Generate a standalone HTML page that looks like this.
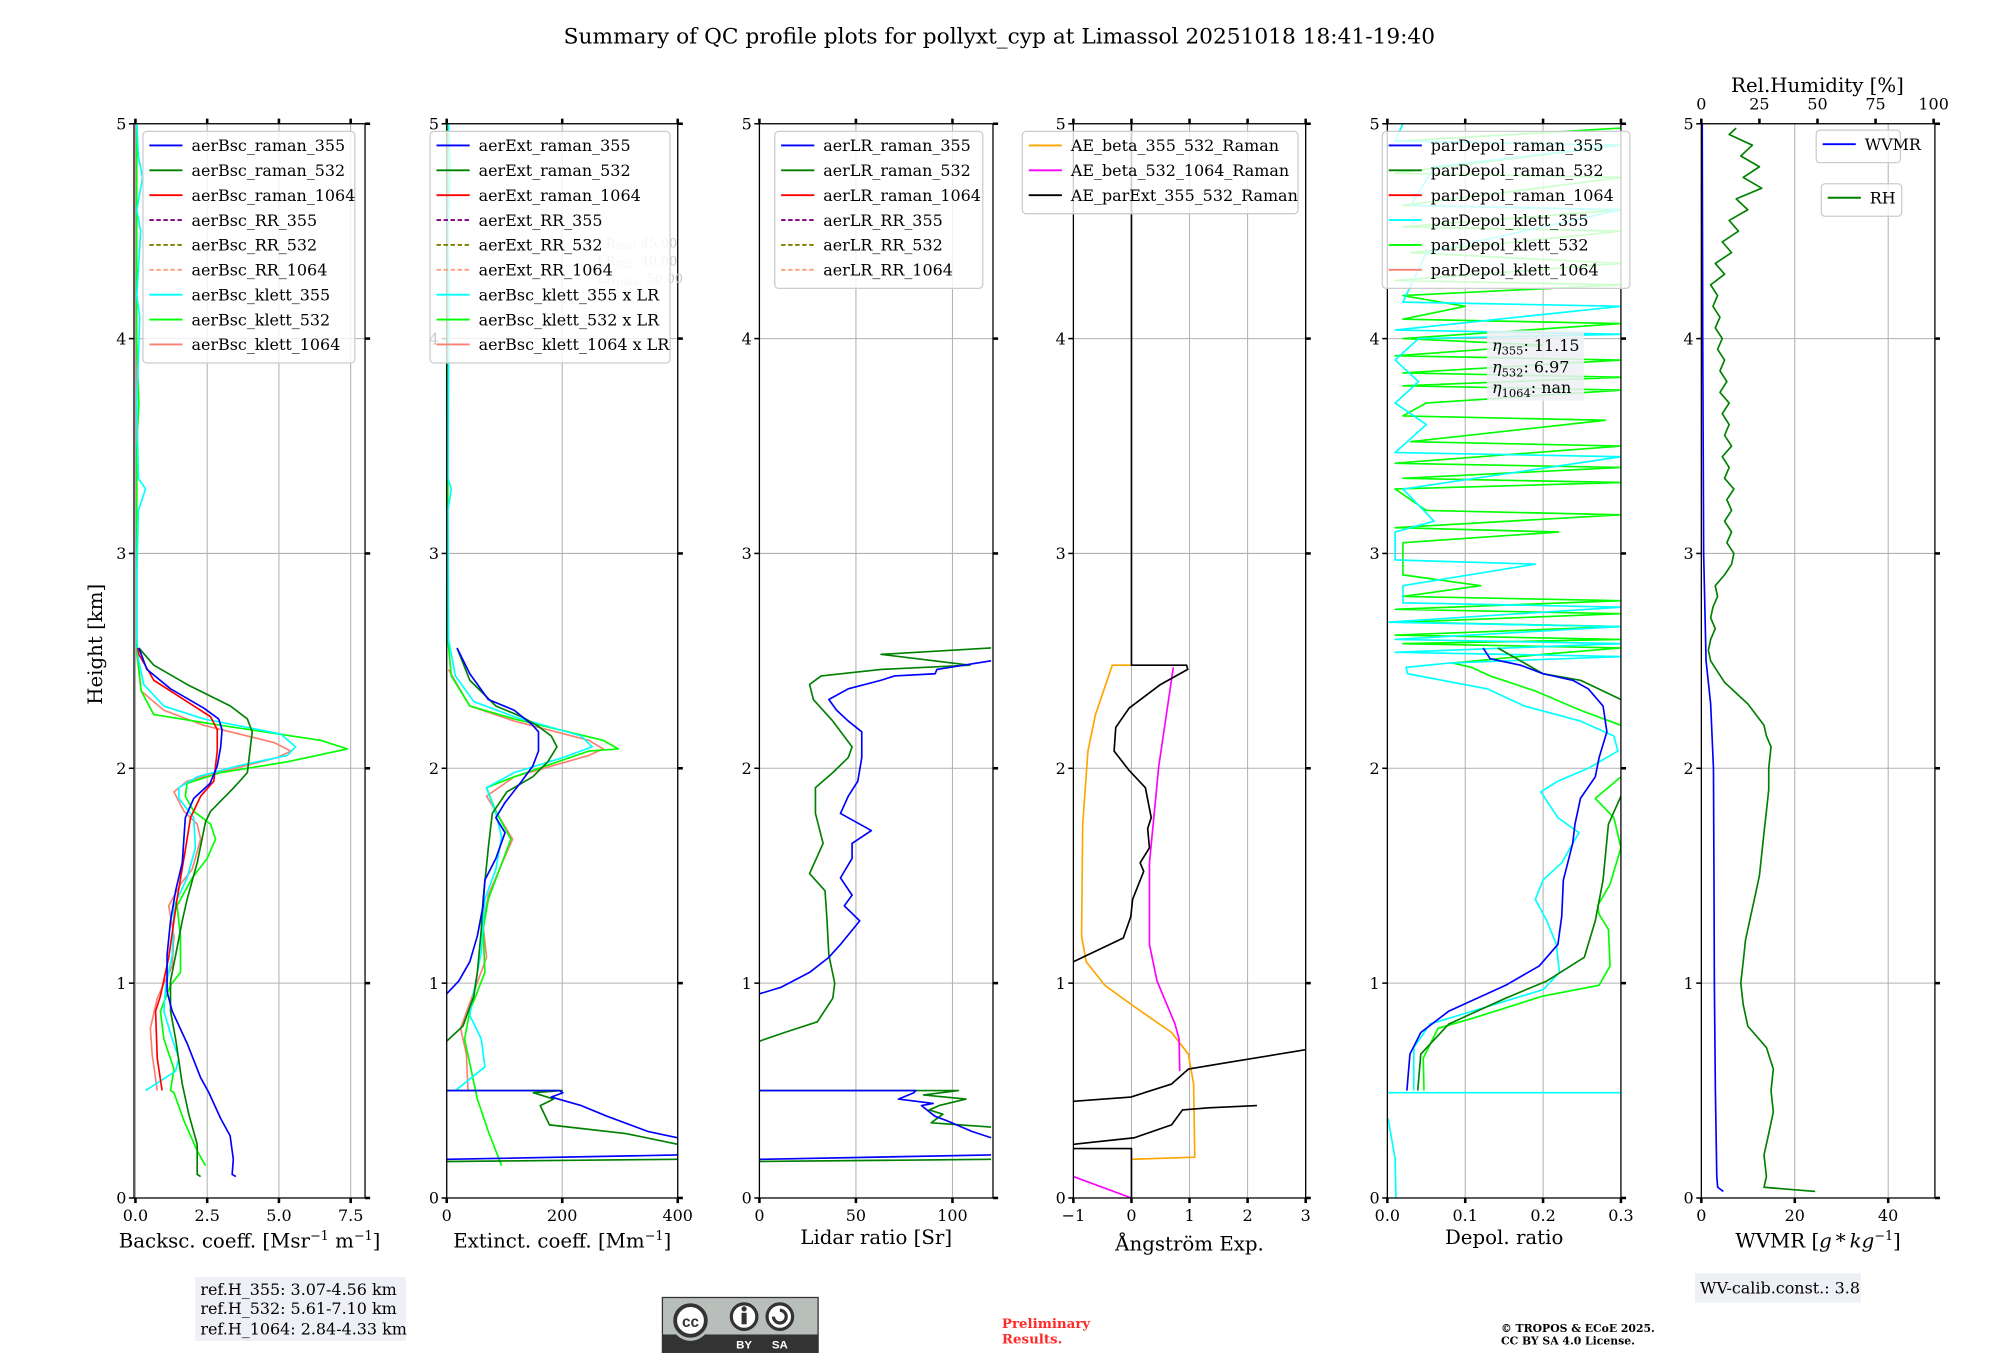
<!DOCTYPE html>
<html><head><meta charset="utf-8"><style>
html,body{margin:0;padding:0;background:#fff;}
svg{display:block;font-family:"DejaVu Serif","Liberation Serif",serif;}
</style></head><body>
<svg id="fig" xmlns="http://www.w3.org/2000/svg" width="2000" height="1360" viewBox="0 0 1567 1066" preserveAspectRatio="none">
<rect x="0" y="0" width="1567" height="1066" fill="#fff"/>
<text x="783" y="34" font-size="17" text-anchor="middle">Summary of QC profile plots for pollyxt_cyp at Limassol 20251018 18:41-19:40</text>
<text x="0" y="0" font-size="15.5" text-anchor="middle" transform="translate(80,505) rotate(-90)">Height [km]</text>
<g id="plots"></g>
<g>
<rect x="153" y="1001" width="165" height="50" fill="#eef0f5"/>
<text x="157" y="1015" font-size="12.5">ref.H_355: 3.07-4.56 km</text>
<text x="157" y="1030" font-size="12.5">ref.H_532: 5.61-7.10 km</text>
<text x="157" y="1046" font-size="12.5">ref.H_1064: 2.84-4.33 km</text>
</g>
<g>
<rect x="1328" y="998" width="130" height="23" fill="#eef0f5"/>
<text x="1332" y="1014" font-size="12.5">WV-calib.const.: 3.8</text>
</g>
<g>
<rect x="519" y="1017" width="122" height="43" fill="#b8bfba" stroke="#333" stroke-width="1"/>
<rect x="519" y="1046" width="122" height="14" fill="#333"/>
<circle cx="541" cy="1036" r="15" fill="#b8bfba"/>
<circle cx="541" cy="1035" r="12" fill="#fff" stroke="#333" stroke-width="3"/>
<text x="541" y="1040" font-size="12" font-family="Liberation Sans, sans-serif" font-weight="bold" text-anchor="middle" fill="#333">cc</text>
<circle cx="583" cy="1032" r="10" fill="#fff" stroke="#333" stroke-width="2.5"/>
<rect x="581" y="1029" width="4" height="9" fill="#333"/><circle cx="583" cy="1026" r="2" fill="#333"/>
<circle cx="611" cy="1032" r="10" fill="#fff" stroke="#333" stroke-width="2.5"/>
<path d="M606 1032 A5 5 0 1 0 611 1027" fill="none" stroke="#333" stroke-width="2.5"/>
<text x="583" y="1057" font-size="9" font-family="Liberation Sans, sans-serif" font-weight="bold" fill="#fff" text-anchor="middle">BY</text>
<text x="611" y="1057" font-size="9" font-family="Liberation Sans, sans-serif" font-weight="bold" fill="#fff" text-anchor="middle">SA</text>
</g>
<text x="785" y="1041" font-size="10.5" font-weight="bold" fill="#ff2a2a">Preliminary</text>
<text x="785" y="1053" font-size="10.5" font-weight="bold" fill="#ff2a2a">Results.</text>
<text x="1176" y="1044" font-size="8.5" font-weight="bold">© TROPOS &amp; ECoE 2025.</text>
<text x="1176" y="1054" font-size="8.5" font-weight="bold">CC BY SA 4.0 License.</text>
</svg>
<script>
// ===== DATA ===== each point: [height_km, value]; null = gap
const heightTicks = [0,1,2,3,4,5];
const bscTicks = [0,2.5,5,7.5]; const bscTickLabels = ["0.0","2.5","5.0","7.5"];
const extTicks = [0,200,400]; const extTickLabels = ["0","200","400"];
const lrTicks = [0,50,100]; const lrTickLabels = ["0","50","100"];
const aeTicks = [-1,0,1,2,3]; const aeTickLabels = ["\u22121","0","1","2","3"];
const dpTicks = [0,0.1,0.2,0.3]; const dpTickLabels = ["0.0","0.1","0.2","0.3"];
const wvTicks = [0,20,40]; const wvTickLabels = ["0","20","40"];
const rhTicks = [0,25,50,75,100]; const rhTickLabels = ["0","25","50","75","100"];

const bscRaman355 = [[0.10,3.5],[0.11,3.37],[0.18,3.41],[0.29,3.3],[0.37,2.97],[0.49,2.56],[0.56,2.27],[0.72,1.8],[0.87,1.28],[0.96,1.1],[1.13,1.1],[1.29,1.22],[1.43,1.4],[1.56,1.63],[1.77,1.74],[1.86,2.03],[1.93,2.6],[2.01,2.85],[2.1,2.97],[2.18,3.02],[2.23,2.9],[2.28,2.38],[2.37,1.22],[2.46,0.4],[2.56,0.12]];
const bscRaman532 = [[0.10,2.27],[0.11,2.15],[0.25,2.15],[0.39,1.86],[0.53,1.63],[0.74,1.4],[0.87,1.22],[1.01,1.22],[1.13,1.4],[1.29,1.63],[1.39,1.8],[1.56,2.15],[1.75,2.44],[1.8,2.62],[1.91,3.43],[1.98,3.9],[2.17,4.07],[2.23,3.9],[2.29,3.31],[2.39,1.8],[2.48,0.64],[2.56,0.12]];
const bscRaman1064 = [[0.5,0.93],[0.65,0.76],[0.87,0.7],[0.94,0.87],[1.12,1.16],[1.39,1.45],[1.62,1.74],[1.77,1.92],[1.87,2.27],[1.94,2.73],[2.08,2.85],[2.18,2.85],[2.24,2.62],[2.31,1.8],[2.41,0.64],[2.53,0.12],[2.56,0.08]];
const bscKlett355 = [[0.5,0.35],[0.59,1.4],[0.65,1.51],[0.74,1.28],[0.87,0.99],[0.98,1.05],[1.13,1.28],[1.36,1.34],[1.49,1.8],[1.63,2.09],[1.77,2.03],[1.86,1.51],[1.91,1.51],[1.96,2.15],[2.01,3.55],[2.06,5.29],[2.1,5.58],[2.16,5.06],[2.23,2.38],[2.29,0.99],[2.39,0.29],[2.51,0.1],[2.6,0.05],[2.9,0.05],[3.2,0.1],[3.3,0.35],[3.35,0.1],[3.7,0.05],[4.1,0.15],[4.2,0.05],[4.5,0.18],[4.6,0.05],[4.75,0.25],[4.85,0.1],[5.0,0.05]];
const bscKlett532 = [[0.15,2.44],[0.22,2.15],[0.36,1.69],[0.49,1.34],[0.5,1.22],[0.6,1.34],[0.74,0.99],[0.87,0.87],[0.99,1.22],[1.05,1.57],[1.22,1.57],[1.36,1.45],[1.49,1.98],[1.58,2.5],[1.67,2.79],[1.74,2.62],[1.8,2.03],[1.87,1.74],[1.93,1.8],[1.98,2.97],[2.03,5.29],[2.09,7.38],[2.13,6.45],[2.2,2.97],[2.25,0.64],[2.36,0.2],[2.55,0.05],[3.5,0.05],[3.7,0.12],[4.0,0.04],[5.0,0.05]];
const bscKlett1064 = [[0.5,0.76],[0.67,0.58],[0.79,0.52],[0.93,0.76],[1.08,1.28],[1.22,1.34],[1.36,1.16],[1.46,1.57],[1.53,1.98],[1.67,2.27],[1.74,2.15],[1.8,1.69],[1.89,1.34],[1.94,1.8],[1.99,3.2],[2.05,4.94],[2.08,5.41],[2.12,4.83],[2.2,2.38],[2.27,0.99],[2.36,0.2],[2.53,0.05],[5.0,0.03]];

const extRaman355 = [[0.18,0],[0.2,400],null,[0.28,400],[0.31,348],[0.38,278],[0.43,233],[0.47,181],[0.49,201],[0.5,195],[0.5,0],null,[0.95,0],[1.01,21],[1.1,40],[1.22,53],[1.36,63],[1.48,66],[1.58,85],[1.7,101],[1.77,85],[1.84,101],[1.94,130],[2.01,149],[2.08,159],[2.17,159],[2.2,149],[2.27,117],[2.32,72],[2.44,40],[2.56,18]];
const extRaman532 = [[0.17,0],[0.18,400],null,[0.25,400],[0.3,310],[0.34,178],[0.43,162],[0.46,185],[0.49,150],[0.5,200],[0.5,0],null,[0.73,0],[0.8,28],[0.94,47],[1.05,53],[1.25,60],[1.39,63],[1.63,72],[1.79,79],[1.89,104],[1.96,149],[2.03,175],[2.1,191],[2.15,181],[2.2,156],[2.24,130],[2.29,85],[2.41,40],[2.56,18]];
const extKlett355 = [[0.5,15],[0.61,66],[0.74,60],[0.85,40],[0.96,47],[1.15,60],[1.39,66],[1.53,85],[1.68,95],[1.79,85],[1.91,69],[1.98,117],[2.05,201],[2.1,252],[2.15,233],[2.24,117],[2.31,47],[2.43,15],[2.6,3],[3.2,2],[3.3,8],[3.35,2],[4.2,4],[4.5,2],[4.8,6],[5.0,3]];
const extKlett532 = [[0.15,95],[0.31,72],[0.46,53],[0.5,50],[0.74,31],[0.87,40],[1.05,66],[1.25,63],[1.39,72],[1.67,111],[1.8,85],[1.91,69],[1.96,117],[2.08,246],[2.09,297],[2.13,271],[2.23,117],[2.29,40],[2.43,8],[2.6,2],[5.0,2]];
const extKlett1064 = [[0.5,37],[0.67,34],[0.79,24],[0.96,47],[1.12,69],[1.27,63],[1.41,72],[1.67,114],[1.8,85],[1.87,69],[1.96,117],[2.06,246],[2.09,271],[2.13,246],[2.22,117],[2.29,40],[2.46,3]];

const lrRaman355 = [[0.18,0],[0.2,120],null,[0.28,120],[0.31,110],[0.36,97],[0.38,91],[0.43,84],[0.44,90],[0.46,72],[0.49,80],[0.5,81],[0.5,0],null,[0.95,0],[0.98,11],[1.05,26],[1.12,36],[1.18,42],[1.29,52],[1.36,44],[1.41,48],[1.49,42],[1.58,48],[1.65,48],[1.71,58],[1.79,42],[1.87,46],[1.94,51],[2.05,53],[2.17,53],[2.22,46],[2.27,40],[2.32,36],[2.37,46],[2.41,63],[2.43,70],[2.44,91],[2.46,92],[2.5,120]];
const lrRaman532 = [[0.17,0],[0.18,120],null,[0.33,120],[0.35,89],[0.39,95],[0.41,88],[0.43,93],[0.46,107],[0.48,85],[0.5,103],[0.5,0],null,[0.73,0],[0.77,13],[0.82,30],[0.93,38],[1.0,39],[1.13,36],[1.3,35],[1.43,34],[1.51,26],[1.65,33],[1.79,29],[1.91,29],[1.98,38],[2.05,46],[2.1,48],[2.22,38],[2.32,28],[2.39,26],[2.43,32],[2.46,63],[2.48,109],[2.53,63],[2.56,120]];

const aeBeta355532 = [[0.18,0],[0.19,1.09],[0.53,1.07],[0.67,0.98],[0.77,0.69],[0.89,0.05],[0.99,-0.46],[1.1,-0.78],[1.22,-0.86],[1.74,-0.84],[2.08,-0.75],[2.25,-0.62],[2.48,-0.33],[2.48,0]];
const aeBeta5321064 = [[0.0,0],[0.1,-1],null,[0.59,0.83],[0.74,0.82],[0.81,0.75],[1.01,0.44],[1.18,0.31],[1.56,0.31],[2.01,0.47],[2.47,0.72]];
const aeParExt = [[0,0],[0.23,0],[0.23,-1],null,[0.25,-1],[0.28,0.05],[0.34,0.69],[0.41,0.88],[0.42,1.33],[0.43,2.16],null,[0.45,-1],[0.47,-0.01],[0.53,0.69],[0.6,0.98],[0.63,1.65],[0.69,3],null,[1.1,-1],[1.21,-0.14],[1.31,-0.01],[1.39,0.02],[1.52,0.21],[1.56,0.15],[1.63,0.31],[1.72,0.28],[1.77,0.34],[1.91,0.24],[1.99,-0.04],[2.08,-0.3],[2.19,-0.27],[2.28,-0.04],[2.39,0.5],[2.46,0.97],[2.48,0.95],[2.48,0],[5,0]];

const dpRaman355 = [[0.5,0.025],[0.67,0.029],[0.77,0.043],[0.87,0.079],[0.99,0.152],[1.08,0.195],[1.18,0.219],[1.31,0.224],[1.48,0.226],[1.65,0.238],[1.74,0.241],[1.86,0.248],[1.96,0.267],[2.05,0.272],[2.17,0.282],[2.29,0.277],[2.37,0.258],[2.41,0.238],[2.44,0.2],[2.48,0.171],[2.51,0.132],[2.56,0.123]];
const dpRaman532 = [[0.5,0.039],[0.67,0.043],[0.81,0.079],[0.93,0.152],[1.01,0.205],[1.12,0.253],[1.29,0.267],[1.48,0.277],[1.74,0.284],[1.87,0.3],null,[2.32,0.3],[2.41,0.248],[2.44,0.2],[2.56,0.142]];
const dpKlett532 = [[0.5,0.047],[0.65,0.046],[0.79,0.065],[0.84,0.113],[0.94,0.2],[0.99,0.272],[1.08,0.286],[1.25,0.284],[1.32,0.272],[1.36,0.27],[1.46,0.286],[1.63,0.3],[1.77,0.291],[1.86,0.267],[1.96,0.3],null,[2.2,0.3],[2.27,0.248],[2.36,0.19],[2.43,0.132],[2.47,0.108],[2.49,0.084],[2.53,0.2],[2.56,0.3],[2.58,0.02],[2.6,0.3],[2.62,0.01],[2.66,0.3],[2.68,0.02],[2.72,0.3],[2.74,0.01],[2.78,0.3],[2.8,0.02],[2.85,0.12],[2.9,0.02],[3.05,0.02],[3.1,0.22],[3.12,0.01],[3.18,0.3],[3.2,0.05],[3.3,0.01],[3.33,0.3],[3.35,0.02],[3.4,0.3],[3.42,0.01],[3.5,0.3],[3.52,0.03],[3.62,0.28],[3.64,0.02],[3.7,0.05],[3.76,0.3],[3.78,0.02],[3.82,0.3],[3.84,0.02],[3.9,0.3],[3.92,0.01],[3.97,0.2],[4.0,0.02],[4.07,0.3],[4.09,0.02],[4.15,0.1],[4.2,0.02],[4.25,0.3],[4.27,0.01],[4.35,0.3],[4.4,0.03],[4.5,0.3],[4.52,0.02],[4.6,0.3],[4.62,0.02],[4.75,0.3],[4.77,0.01],[4.9,0.3],[4.92,0.02],[4.98,0.3]];
const dpKlett355 = [[0.0,0.011],[0.18,0.01],[0.37,0.001],null,[0.49,0],[0.49,0.3],null,[0.5,0.034],[0.7,0.034],[0.81,0.055],[0.89,0.128],[0.97,0.2],[1.05,0.221],[1.18,0.217],[1.29,0.205],[1.39,0.19],[1.48,0.2],[1.56,0.224],[1.7,0.246],[1.77,0.219],[1.89,0.197],[1.94,0.219],[2.0,0.258],[2.08,0.296],[2.15,0.291],[2.22,0.248],[2.29,0.176],[2.37,0.128],[2.44,0.026],[2.47,0.024],[2.49,0.079],[2.52,0.3],[2.54,0.01],[2.58,0.3],[2.6,0.01],[2.66,0.3],[2.68,0.0],[2.75,0.3],[2.77,0.02],[2.85,0.02],[2.95,0.19],[2.97,0.01],[3.1,0.01],[3.15,0.06],[3.3,0.02],[3.45,0.3],[3.47,0.01],[3.6,0.05],[3.7,0.01],[3.8,0.04],[3.9,0.01],[4.0,0.04],[4.02,0.3],[4.04,0.01],[4.15,0.3],[4.17,0.02],[4.4,0.05],[4.6,0.3],[4.62,0.03],[4.8,0.06],[4.9,0.3],[4.92,0.01],[5.0,0.02]];

const wvmr = [[0.03,4.7],[0.05,3.5],[0.1,3.3],[0.5,3.0],[1.0,2.8],[1.5,2.7],[2.0,2.6],[2.3,2.0],[2.5,1.0],[3.0,0.5],[4.0,0.3],[5.0,0.2]];
const rh = [[0.03,49],[0.05,27],[0.1,28],[0.2,27],[0.3,29],[0.4,31],[0.5,30],[0.6,31],[0.7,28],[0.8,20],[0.9,18],[1.0,17],[1.1,18],[1.2,19],[1.3,21],[1.4,23],[1.5,25],[1.6,26],[1.7,27],[1.8,28],[1.9,29],[2.0,29],[2.1,30],[2.15,28],[2.2,27],[2.3,20],[2.35,15],[2.4,10],[2.45,7],[2.5,4],[2.55,3],[2.6,4],[2.65,6],[2.7,4],[2.75,5],[2.8,7],[2.85,6],[2.9,10],[2.95,13],[3.0,14],[3.05,11],[3.1,13],[3.15,10],[3.2,13],[3.25,11],[3.3,14],[3.35,10],[3.4,12],[3.45,9],[3.5,13],[3.55,10],[3.6,12],[3.65,9],[3.7,12],[3.75,8],[3.8,11],[3.85,8],[3.9,10],[3.95,7],[4.0,9],[4.05,6],[4.1,8],[4.15,5],[4.2,7],[4.25,4],[4.3,10],[4.35,6],[4.4,13],[4.45,9],[4.5,16],[4.55,12],[4.6,20],[4.65,15],[4.7,26],[4.75,18],[4.8,25],[4.85,17],[4.9,22],[4.95,12],[4.98,15]];

// ===== RENDER =====
const NS = "http://www.w3.org/2000/svg";
const root = document.getElementById('plots');
const Y0 = 939, Y1 = 97, HMAX = 5;
function yS(h){ return Y0 - (Y0 - Y1) * h / HMAX; }
function mk(tag, attrs, parent){ const e = document.createElementNS(NS, tag); for (const k in attrs) e.setAttribute(k, attrs[k]); (parent||root).appendChild(e); return e; }
function xScale(p){ return v => p.x0 + (p.x1 - p.x0) * (v - p.min) / (p.max - p.min); }

function panel(p){
  const g = mk('g', {});
  
  
  const xs = xScale(p);
  p.xs = xs; p.g = g;
  p.ticks.forEach(t => { const l = mk('line', {x1: xs(t), x2: xs(t), y1: Y1, y2: Y0, stroke: '#b0b0b0', 'stroke-width': 0.8}, g);   });
  heightTicks.forEach(t => { const l = mk('line', {x1: p.x0, x2: p.x1, y1: yS(t), y2: yS(t), stroke: '#b0b0b0', 'stroke-width': 0.8}, g);   });
  const clipId = 'clip-' + p.name;
  const cp = mk('clipPath', {id: clipId}, g);
  mk('rect', {x: p.x0, y: Y1, width: p.x1 - p.x0, height: Y0 - Y1}, cp);
  p.plotG = mk('g', {'clip-path': 'url(#' + clipId + ')'}, g);
  return p;
}
function finishPanel(p){
  const g = p.g, xs = p.xs;
  const fr = mk('rect', {x: p.x0, y: Y1, width: p.x1 - p.x0, height: Y0 - Y1, fill: 'none', stroke: '#000', 'stroke-width': 1}, g);
   
  heightTicks.forEach(t => {
    mk('line', {x1: p.x0 - 4, x2: p.x0, y1: yS(t), y2: yS(t), stroke: '#000', 'stroke-width': 1.2}, g);
    mk('line', {x1: p.x1, x2: p.x1 + 4, y1: yS(t), y2: yS(t), stroke: '#000', 'stroke-width': 2}, g);
    const tl = mk('text', {x: p.x0 - 6, y: yS(t) + 4.5, 'font-size': 12.5, 'text-anchor': 'end'}, g);
    tl.textContent = String(t);
     
  });
  p.ticks.forEach((t, i) => {
    mk('line', {x1: xs(t), x2: xs(t), y1: Y0, y2: Y0 + 4, stroke: '#000', 'stroke-width': 2}, g);
    const tl = mk('text', {x: xs(t), y: Y0 + 18, 'font-size': 12.5, 'text-anchor': 'middle'}, g);
    tl.textContent = p.labels[i];
     
  });
  (p.topTicks || p.ticks.map(xs)).forEach(x => { mk('line', {x1: x, x2: x, y1: Y1 - 4, y2: Y1, stroke: '#000', 'stroke-width': 2}, g); });
  const xl = mk('text', {x: (p.x0 + p.x1) / 2, y: p.xlabelY || 978, 'font-size': 15.5, 'text-anchor': 'middle'}, g);
  xl.innerHTML = p.xlabel;
   
}
function series(p, data, color, name, opts){
  opts = opts || {};
  let d = '', pen = false;
  data.forEach(pt => {
    if (pt === null) { pen = false; return; }
    const x = p.xs(pt[1]), y = yS(pt[0]);
    d += (pen ? 'L' : 'M') + x.toFixed(1) + ' ' + y.toFixed(1);
    pen = true;
  });
  const path = mk('path', {d: d, fill: 'none', stroke: color, 'stroke-width': opts.w || 1.3, 'stroke-linejoin': 'round'}, p.plotG);
  
  
}
function legend(x, y, w, entries, name, parent){
  const g = mk('g', {}, parent);
  
  
  const h = entries.length * 19.5 + 6;
  mk('rect', {x: x, y: y, width: w, height: h, rx: 3, fill: '#fff', 'fill-opacity': 0.8, stroke: '#cccccc', 'stroke-width': 1}, g);
  entries.forEach((e, i) => {
    const cy = y + 11 + i * 19.5;
    const ln = mk('line', {x1: x + 5, x2: x + 31, y1: cy, y2: cy, stroke: e[1], 'stroke-width': 1.5, 'stroke-dasharray': e[2] ? '3.5,2' : 'none'}, g);
     
    const t = mk('text', {x: x + 38, y: cy + 4.5, 'font-size': 12.5}, g);
    t.textContent = e[0];
     
  });
}

const p1 = panel({name: 'backscatter-panel', x0: 105, x1: 286, min: -0.05, max: 8.0, ticks: bscTicks, labels: bscTickLabels, xlabel: 'Backsc. coeff. [Msr<tspan dy="-6" font-size="10">\u22121</tspan><tspan dy="6"> m</tspan><tspan dy="-6" font-size="10">\u22121</tspan><tspan dy="6">]</tspan>'});
series(p1, bscKlett1064, '#fa8072', 'bsc-klett-1064');
series(p1, bscKlett532, '#00ff00', 'bsc-klett-532');
series(p1, bscKlett355, '#00ffff', 'bsc-klett-355');
series(p1, bscRaman1064, '#ff0000', 'bsc-raman-1064');
series(p1, bscRaman532, '#008000', 'bsc-raman-532');
series(p1, bscRaman355, '#0000ff', 'bsc-raman-355');
finishPanel(p1);
legend(112, 103, 166, [['aerBsc_raman_355','#0000ff'],['aerBsc_raman_532','#008000'],['aerBsc_raman_1064','#ff0000'],['aerBsc_RR_355','#800080',1],['aerBsc_RR_532','#808000',1],['aerBsc_RR_1064','#ffa07a',1],['aerBsc_klett_355','#00ffff'],['aerBsc_klett_532','#00ff00'],['aerBsc_klett_1064','#fa8072']], 'backscatter-legend', p1.g);

const p2 = panel({name: 'extinction-panel', x0: 350, x1: 531, min: 0, max: 400, ticks: extTicks, labels: extTickLabels, xlabel: 'Extinct. coeff. [Mm<tspan dy="-6" font-size="10">\u22121</tspan><tspan dy="6">]</tspan>'});
series(p2, extKlett1064, '#fa8072', 'ext-klett-1064');
series(p2, extKlett532, '#00ff00', 'ext-klett-532');
series(p2, extKlett355, '#00ffff', 'ext-klett-355');
series(p2, extRaman532, '#008000', 'ext-raman-532');
series(p2, extRaman355, '#0000ff', 'ext-raman-355');
finishPanel(p2);
(function(){
  const g = mk('g', {'font-size': 10, fill: '#c8c8c8'}, p2.g);
   
  const a = mk('text', {x: 468, y: 194}, g); a.innerHTML = 'LR<tspan font-size="7" dy="2">355</tspan><tspan dy="-2">: 45.00</tspan>';
  const b = mk('text', {x: 468, y: 208}, g); b.innerHTML = 'LR<tspan font-size="7" dy="2">532</tspan><tspan dy="-2">: 40.00</tspan>';
  const c = mk('text', {x: 468, y: 222}, g); c.innerHTML = 'LR<tspan font-size="7" dy="2">1064</tspan><tspan dy="-2">: 50.00</tspan>';
})();
legend(337, 103, 188, [['aerExt_raman_355','#0000ff'],['aerExt_raman_532','#008000'],['aerExt_raman_1064','#ff0000'],['aerExt_RR_355','#800080',1],['aerExt_RR_532','#808000',1],['aerExt_RR_1064','#ffa07a',1],['aerBsc_klett_355 x LR','#00ffff'],['aerBsc_klett_532 x LR','#00ff00'],['aerBsc_klett_1064 x LR','#fa8072']], 'extinction-legend', p2.g);

const p3 = panel({name: 'lidar-ratio-panel', x0: 595, x1: 778, min: 0, max: 121, ticks: lrTicks, labels: lrTickLabels, xlabel: 'Lidar ratio [Sr]', xlabelY: 975});
series(p3, lrRaman532, '#008000', 'lr-raman-532');
series(p3, lrRaman355, '#0000ff', 'lr-raman-355');
finishPanel(p3);
legend(607, 103, 163, [['aerLR_raman_355','#0000ff'],['aerLR_raman_532','#008000'],['aerLR_raman_1064','#ff0000'],['aerLR_RR_355','#800080',1],['aerLR_RR_532','#808000',1],['aerLR_RR_1064','#ffa07a',1]], 'lidar-ratio-legend', p3.g);

const p4 = panel({name: 'angstrom-panel', x0: 841, x1: 1023, min: -1, max: 3, ticks: aeTicks, labels: aeTickLabels, xlabel: '\u00c5ngstr\u00f6m Exp.', xlabelY: 980});
series(p4, aeBeta355532, '#ffa500', 'ae-beta-355-532');
series(p4, aeBeta5321064, '#ff00ff', 'ae-beta-532-1064');
series(p4, aeParExt, '#000000', 'ae-parext-355-532');
finishPanel(p4);
legend(801, 103, 216, [['AE_beta_355_532_Raman','#ffa500'],['AE_beta_532_1064_Raman','#ff00ff'],['AE_parExt_355_532_Raman','#000000']], 'angstrom-legend', p4.g);

const p5 = panel({name: 'depol-panel', x0: 1087, x1: 1270, min: 0, max: 0.3, ticks: dpTicks, labels: dpTickLabels, xlabel: 'Depol. ratio', xlabelY: 975});
series(p5, dpKlett532, '#00ff00', 'depol-klett-532');
series(p5, dpKlett355, '#00ffff', 'depol-klett-355');
series(p5, dpRaman532, '#008000', 'depol-raman-532');
series(p5, dpRaman355, '#0000ff', 'depol-raman-355');
finishPanel(p5);
legend(1083, 103, 194, [['parDepol_raman_355','#0000ff'],['parDepol_raman_532','#008000'],['parDepol_raman_1064','#ff0000'],['parDepol_klett_355','#00ffff'],['parDepol_klett_532','#00ff00'],['parDepol_klett_1064','#fa8072']], 'depol-legend', p5.g);
(function(){
  const g = mk('g', {'font-size': 12.5}, p5.g);
   
  mk('rect', {x: 1165, y: 259, width: 76, height: 55, fill: '#eef0f5', 'fill-opacity': 0.85}, g);
  const a = mk('text', {x: 1169, y: 275}, g); a.innerHTML = '<tspan font-style="italic">\u03b7</tspan><tspan font-size="9" dy="3">355</tspan><tspan dy="-3">: 11.15</tspan>';
  const b = mk('text', {x: 1169, y: 292}, g); b.innerHTML = '<tspan font-style="italic">\u03b7</tspan><tspan font-size="9" dy="3">532</tspan><tspan dy="-3">: 6.97</tspan>';
  const c = mk('text', {x: 1169, y: 308}, g); c.innerHTML = '<tspan font-style="italic">\u03b7</tspan><tspan font-size="9" dy="3">1064</tspan><tspan dy="-3">: nan</tspan>';
})();

const p6 = panel({name: 'water-vapor-panel', x0: 1333, x1: 1516, min: 0, max: 50, ticks: wvTicks, labels: wvTickLabels, xlabel: 'WVMR [<tspan font-style="italic">g</tspan>\u2009*\u2009<tspan font-style="italic">kg</tspan><tspan dy="-6" font-size="10">\u22121</tspan><tspan dy="6">]</tspan>'});
const rhScale = {xs: v => 1333 + (1515 - 1333) * v / 100, plotG: p6.plotG};
series(p6, wvmr, '#0000ff', 'wvmr-line');
series(rhScale, rh, '#008000', 'rh-line');
p6.topTicks = rhTicks.map(rhScale.xs);
finishPanel(p6);
rhTicks.forEach((t, i) => {
  const tl = mk('text', {x: rhScale.xs(t), y: 86, 'font-size': 12.5, 'text-anchor': 'middle'}, p6.g);
  tl.textContent = rhTickLabels[i];
   
});
(function(){
  const t = mk('text', {x: 1424, y: 72, 'font-size': 15.5, 'text-anchor': 'middle'}, p6.g);
  t.textContent = 'Rel.Humidity [%]';
   
})();
legend(1423, 102, 66, [['WVMR','#0000ff']], 'wvmr-legend', p6.g);
legend(1427, 144, 63, [['RH','#008000']], 'rh-legend', p6.g);
</script>
</body></html>
